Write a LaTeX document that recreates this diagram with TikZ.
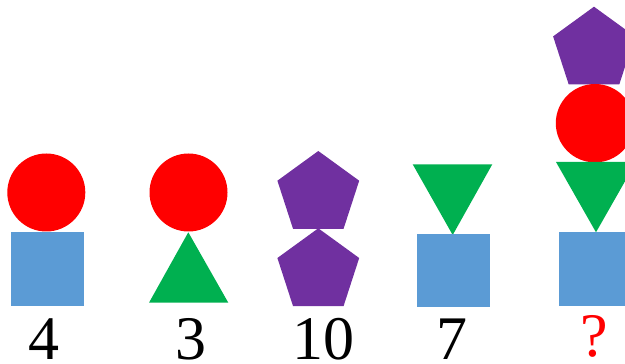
\documentclass[tikz,border=0pt]{standalone}
\usepackage{fontspec}
\setmainfont{Liberation Serif}
\usetikzlibrary{shapes.geometric}
\definecolor{cred}{HTML}{FF0000}
\definecolor{cblue}{HTML}{5B9BD5}
\definecolor{cgreen}{HTML}{00B050}
\definecolor{cpurple}{HTML}{7030A0}
\begin{document}
\begin{tikzpicture}[x=1pt,y=1pt,
  pent/.style={regular polygon, regular polygon sides=5, minimum size=86pt, inner sep=0pt, fill=cpurple},
  lbl/.style={anchor=base, inner sep=0pt, font=\fontsize{62}{66}\selectfont}]
\useasboundingbox (0,0) rectangle (625,364);
% column 1
\fill[cred] (46.3,171.5) circle (39);
\fill[cblue] (11,58) rectangle (84.3,131.7);
\node[lbl] (l1) at (44,4.5) {4};
% column 2
\fill[cred] (188.5,171.5) circle (39);
\fill[cgreen] (188.3,131.7) -- (149,61.3) -- (228.3,61.3) -- cycle;
\node[lbl] (l2) at (190.5,4.5) {3};
% column 3
\node[pent] (p1) at (318.3,170) {};
\node[pent] (p2) at (318.3,92.7) {};
\node[lbl] (l3) at (323,4.5) {10};
% column 4
\fill[cgreen] (412.7,199.7) -- (492.3,199.7) -- (452.7,129) -- cycle;
\fill[cblue] (417,56.7) rectangle (490.3,129.7);
\node[lbl] (l4) at (452,4.5) {7};
% column 5
\node[pent] (p3) at (594,314.3) {};
\fill[cred] (595,240.8) circle (39.2);
\fill[cgreen] (556,202) -- (636,202) -- (596,131.7) -- cycle;
\fill[cblue] (559.3,58.3) rectangle (632.6,131.7);
\node[lbl, text=cred] (l5) at (594.5,7) {?};
\end{tikzpicture}
\end{document}
